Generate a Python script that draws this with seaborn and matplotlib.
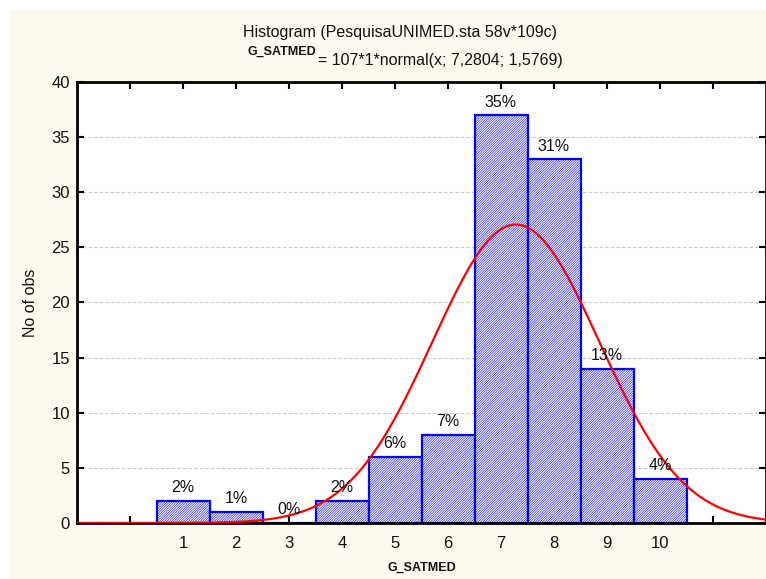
import numpy as np
import pandas as pd
import matplotlib
matplotlib.use("Agg")
import matplotlib.pyplot as plt
from matplotlib.patches import Rectangle
import seaborn as sns

# Satisfaction grade frequencies (G_SATMED)
grades = [1, 2, 3, 4, 5, 6, 7, 8, 9, 10]
counts = [2, 1, 0, 2, 6, 8, 37, 33, 14, 4]

# Fitted normal curve parameters
n_obs = 107
bin_width = 1
mu = 7.2804
sigma = 1.5769

x_ticks = list(range(0, 12))
x_tick_labels = ["" if t in (0, 11) else str(t) for t in x_ticks]
y_ticks = [0, 5, 10, 15, 20, 25, 30, 35, 40]

sns.set_theme(style="white")
plt.rcParams["font.family"] = ["Liberation Sans", "DejaVu Sans"]
plt.rcParams["hatch.linewidth"] = 0.4

W, H = 766, 579
fig = plt.figure(figsize=(W / 100, H / 100), dpi=100, facecolor="white")
fig.patches.append(Rectangle((10 / W, 0), 1, 1 - 10 / H, transform=fig.transFigure,
                             facecolor="#FEF9EF", edgecolor="none", zorder=-10))

ax = fig.add_axes([77 / W, (H - 523) / H, (W - 77) / W, (523 - 82) / H])
ax.set_facecolor("white")

df = pd.DataFrame({"grade": grades, "count": counts})
sns.histplot(data=df, x="grade", weights="count", discrete=True, ax=ax,
             facecolor="white", edgecolor="#0000FF", linewidth=1.6,
             hatch="/" * 14, alpha=1.0, zorder=2)

# Normal curve scaled to the histogram
xs = np.linspace(-1, 12, 500)
ys = n_obs * bin_width * np.exp(-0.5 * ((xs - mu) / sigma) ** 2) / (sigma * np.sqrt(2 * np.pi))
sns.lineplot(x=xs, y=ys, ax=ax, color="#FF0000", linewidth=1.6, zorder=4)

# Percentage labels above each bar
total = sum(counts)
for g, c in zip(grades, counts):
    ax.annotate(f"{round(100 * c / total)}%", xy=(g, c), xytext=(0, 4),
                textcoords="offset points", ha="center", va="bottom",
                fontsize=11.5, color="#111111", zorder=5)

ax.set_xlim(-1, 12)
ax.set_ylim(0, 40)
ax.set_xticks(x_ticks)
ax.set_xticklabels(x_tick_labels)
ax.set_yticks(y_ticks)
ax.yaxis.grid(True, linestyle=(0, (3, 2)), color="#C8C8C8", linewidth=0.8, zorder=0)
ax.set_axisbelow(True)
ax.tick_params(direction="in", length=5, width=1.5, color="black", labelsize=12,
               labelcolor="#111111", top=True, right=True, bottom=True, left=True, pad=9)
ax.tick_params(axis="y", pad=5)
for s in ax.spines.values():
    s.set_linewidth(2)
    s.set_color("black")

ax.set_xlabel("G_SATMED", fontsize=9, fontweight="bold", labelpad=8, color="#111111")
ax.set_ylabel("No of obs", fontsize=11.5, labelpad=10, color="#111111")

fig.text(400 / W, 1 - 33 / H, "Histogram (PesquisaUNIMED.sta 58v*109c)",
         ha="center", va="center", fontsize=11.5, color="#111111")
fig.text(316 / W, 1 - 52 / H, "G_SATMED", ha="right", va="center",
         fontsize=9, fontweight="bold", color="#111111")
fig.text(318 / W, 1 - 60 / H, "= 107*1*normal(x; 7,2804; 1,5769)",
         ha="left", va="center", fontsize=11.5, color="#111111")

fig.savefig("out.png", dpi=100, facecolor=fig.get_facecolor())
